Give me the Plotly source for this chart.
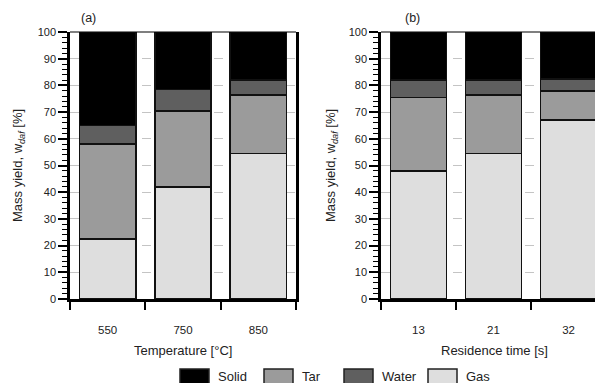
import plotly.graph_objects as go

# ---- data ----
temp_categories = ["550", "750", "850"]
time_categories = ["13", "21", "32"]

gas_a = [22.5, 42.0, 54.5]
tar_a = [35.5, 28.5, 22.0]
water_a = [7.0, 8.0, 5.5]
solid_a = [35.0, 21.5, 18.0]

gas_b = [48.0, 54.5, 67.0]
tar_b = [27.5, 22.0, 11.0]
water_b = [6.5, 5.5, 4.5]
solid_b = [18.0, 18.0, 17.5]

series_names = ["Gas", "Tar", "Water", "Solid"]
legend_order = ["Solid", "Tar", "Water", "Gas"]
colors = {"Solid": "#000000", "Tar": "#9b9b9b", "Water": "#5f5f5f", "Gas": "#dedede"}

W, H = 595, 383
FONT = "Liberation Sans, Arial, sans-serif"
TXT = "#222222"

fig = go.Figure()

data_a = {"Gas": gas_a, "Tar": tar_a, "Water": water_a, "Solid": solid_a}
data_b = {"Gas": gas_b, "Tar": tar_b, "Water": water_b, "Solid": solid_b}

for name in series_names:
    fig.add_trace(go.Bar(x=temp_categories, y=data_a[name], name=name,
                         marker=dict(color=colors[name], line=dict(color="#111111", width=1.7)),
                         xaxis="x", yaxis="y", showlegend=False))
for name in series_names:
    fig.add_trace(go.Bar(x=time_categories, y=data_b[name], name=name,
                         marker=dict(color=colors[name], line=dict(color="#111111", width=1.7)),
                         xaxis="x2", yaxis="y2", showlegend=False))

def px_x(p):
    return p / W

def px_y(p):
    return (H - p) / H

ydom = [px_y(299), px_y(32)]

xcommon = dict(type="category", tickson="boundaries", ticks="outside", ticklen=8,
               tickwidth=1.5, tickcolor="black", showline=True, linewidth=2.5,
               linecolor="black", showgrid=False, zeroline=False, automargin=False,
               tickfont=dict(family=FONT, size=11.5, color=TXT), ticklabelstandoff=18)
ycommon = dict(range=[0, 100], tickvals=list(range(0, 101, 10)), ticks="outside",
               ticklen=9, tickwidth=1.5, tickcolor="black", showline=True,
               linewidth=2.5, linecolor="black", mirror=True, showgrid=True,
               gridcolor="#c4c4c4", griddash="dash", gridwidth=1, zeroline=False,
               automargin=False,
               tickfont=dict(family=FONT, size=11, color=TXT),
               minor=dict(dtick=2, ticks="outside", ticklen=5, tickwidth=1.3,
                          tickcolor="black", showgrid=False),
               domain=ydom)

fig.update_layout(
    width=W, height=H, margin=dict(l=0, r=0, t=0, b=0, pad=0, autoexpand=False),
    paper_bgcolor="white", plot_bgcolor="white",
    barmode="stack", bargap=0.25, showlegend=False,
    font=dict(family=FONT, size=13, color=TXT),
    xaxis=dict(domain=[px_x(70), px_x(296)], range=[-0.5, 2.5], anchor="y", **xcommon),
    yaxis=dict(anchor="x", **ycommon),
    xaxis2=dict(domain=[px_x(381), 1.0], range=[-0.5, 2.353], anchor="y2", **xcommon),
    yaxis2=dict(anchor="x2", **ycommon),
)

shapes = []
# top frame lines (thin)
for xr, yr in [("x domain", "y domain"), ("x2 domain", "y2 domain")]:
    shapes.append(dict(type="line", xref=xr, yref=yr, x0=0, x1=1, y0=1, y1=1,
                       line=dict(color="black", width=1.2)))

annotations = []
# axis titles
annotations.append(dict(text="Temperature [°C]", x=px_x(183), y=px_y(350), xref="paper", yref="paper",
                        showarrow=False, font=dict(size=13), xanchor="center", yanchor="middle"))
annotations.append(dict(text="Residence time [s]", x=px_x(494), y=px_y(350), xref="paper", yref="paper",
                        showarrow=False, font=dict(size=13), xanchor="center", yanchor="middle"))
for xc in (19, 332):
    annotations.append(dict(text="Mass yield, w<sub><i>daf</i></sub> [%]", x=px_x(xc), y=px_y(166),
                            xref="paper", yref="paper", showarrow=False, textangle=-90,
                            font=dict(size=13), xanchor="center", yanchor="middle"))
# panel labels
annotations.append(dict(text="(a)", x=px_x(88), y=px_y(18), xref="paper", yref="paper",
                        showarrow=False, font=dict(size=12.5), xanchor="center", yanchor="middle"))
annotations.append(dict(text="(b)", x=px_x(412), y=px_y(18), xref="paper", yref="paper",
                        showarrow=False, font=dict(size=12.5), xanchor="center", yanchor="middle"))

# legend (manual)
legend_box_x = {"Solid": 180, "Tar": 264, "Water": 344, "Gas": 428}
for name in legend_order:
    x0 = legend_box_x[name]
    shapes.append(dict(type="rect", xref="paper", yref="paper",
                       x0=px_x(x0), x1=px_x(x0 + 29), y0=px_y(384), y1=px_y(369),
                       fillcolor=colors[name], line=dict(color="#222222", width=1.5)))
    annotations.append(dict(text=name, x=px_x(x0 + 36), y=px_y(376), xref="paper", yref="paper",
                            showarrow=False, font=dict(size=13), xanchor="left", yanchor="middle"))

fig.update_layout(shapes=shapes, annotations=annotations)
fig.write_html("out.html", config={"displayModeBar": False},
               post_script="document.body.style.margin='0';document.body.style.overflow='hidden';")
